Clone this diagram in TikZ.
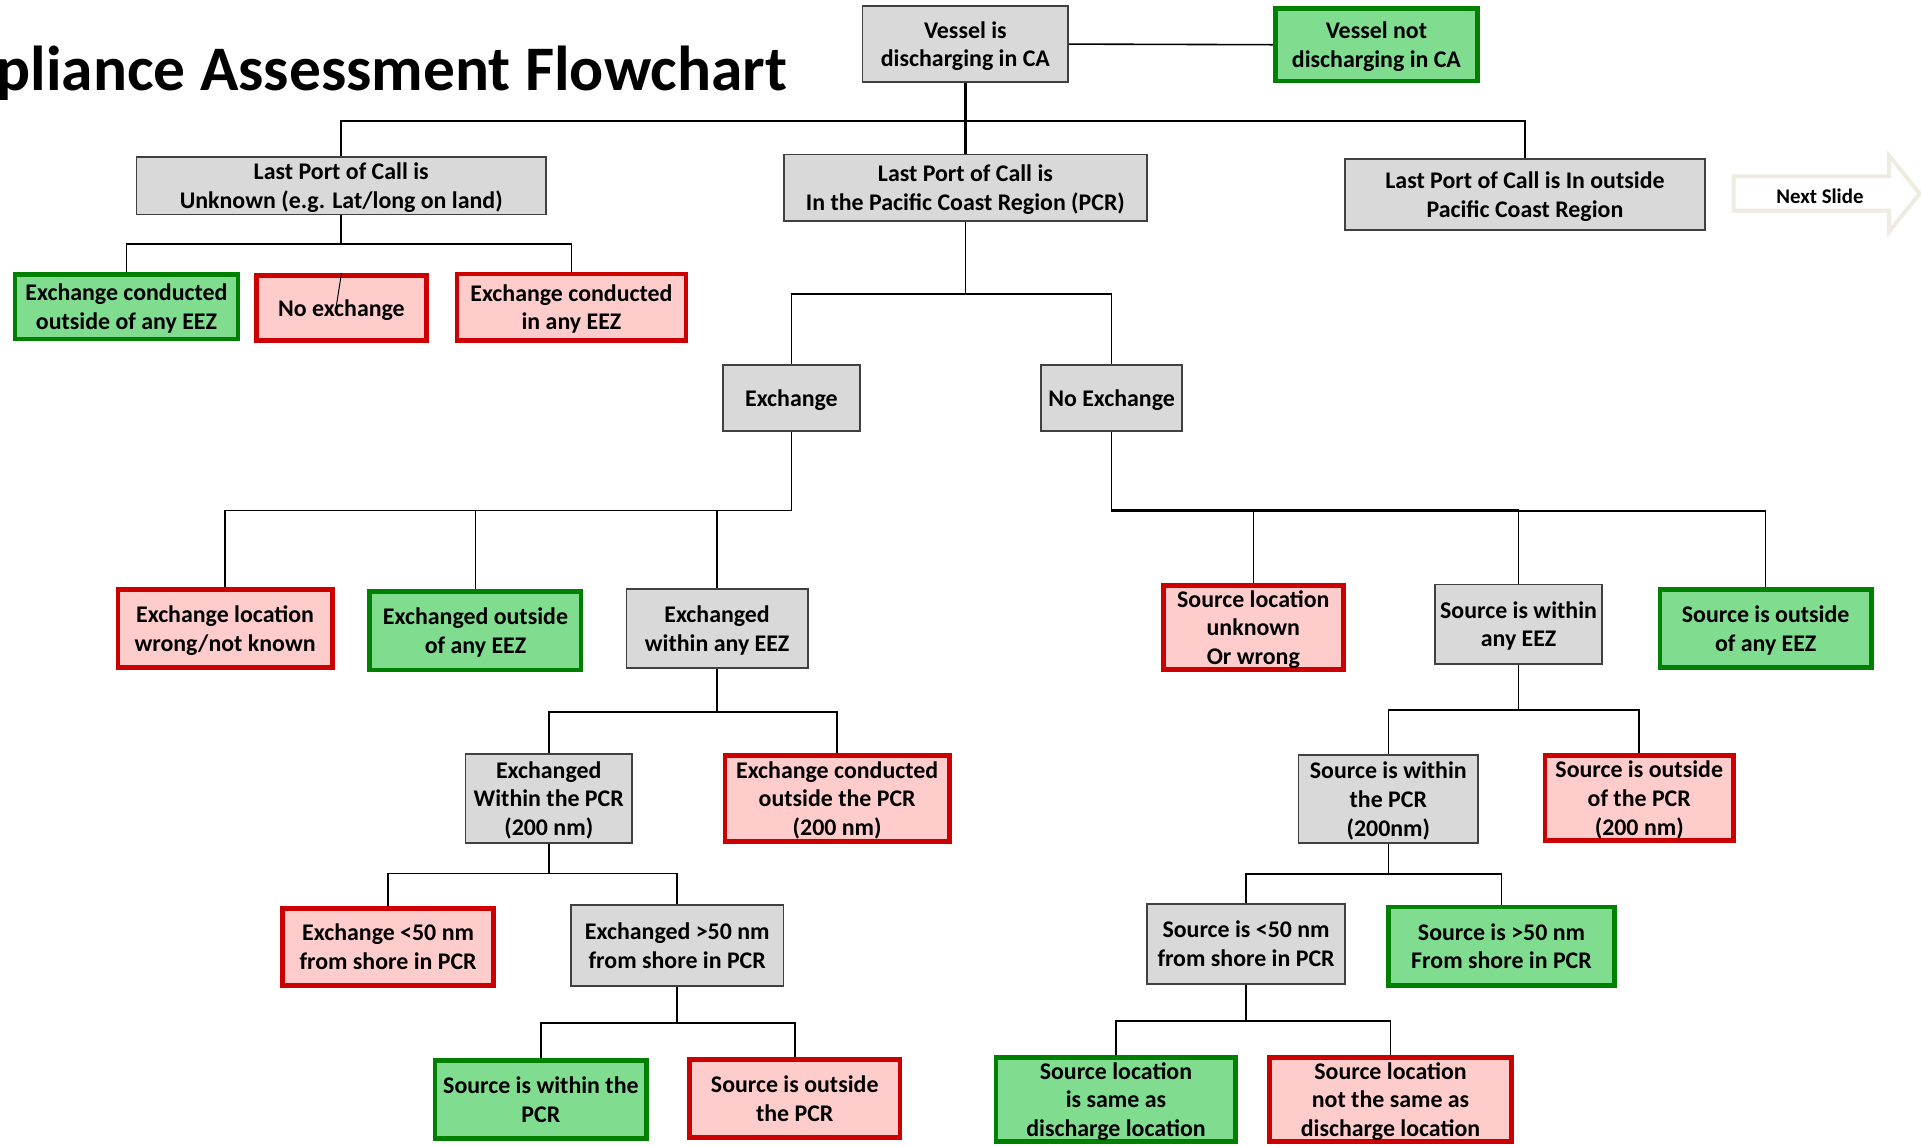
\documentclass[tikz,border=0pt]{standalone}
\usepackage{fontspec}
\setmainfont{Carlito}
\usepackage{xcolor}
\usetikzlibrary{positioning}
\definecolor{boxgray}{HTML}{D9D9D9}
\definecolor{grayedge}{HTML}{404040}
\definecolor{okfill}{HTML}{80DC8F}
\definecolor{okedge}{HTML}{008000}
\definecolor{badfill}{HTML}{FFCCCC}
\definecolor{badedge}{HTML}{CC0000}
\definecolor{slideedge}{HTML}{EEECE1}
\tikzset{
  chartbox/.style={
    rectangle, inner sep=0pt, align=center, text depth=0pt,
    font=\fontsize{19.5}{23.5}\selectfont\bfseries
  },
  graybox/.style={chartbox, draw=grayedge, line width=1.4pt, fill=boxgray},
  okbox/.style={chartbox, draw=okedge, line width=3.8pt, fill=okfill},
  badbox/.style={chartbox, draw=badedge, line width=3.8pt, fill=badfill},
  boxsize/.style 2 args={minimum width=#1pt, minimum height=#2pt},
  link/.style={line width=1.3pt, draw=black},
  mainlink/.style={line width=2pt, draw=black}
}

\begin{document}
\begin{tikzpicture}[x=1pt, y=-1pt]
  \useasboundingbox (0,0) rectangle (1568,936);
  \clip (0,0) rectangle (1568,936);

  % Title
  \node[anchor=base east, font=\fontsize{51.8}{60}\selectfont\bfseries] (title) at (646, 74) {pliance Assessment Flowchart};

  % Top level
  \node[graybox, boxsize={168}{62}] (vessel) at (788, 36) {Vessel is\\discharging in CA};
  \node[okbox, boxsize={165}{59}] (novessel) at (1123.5, 36.5) {Vessel not\\discharging in CA};
  \draw[link] (vessel.east) -- (novessel.west);

  % Last port of call
  \node[graybox, boxsize={334}{47}] (unknown) at (278.5, 151.7) {Last Port of Call is\\Unknown (e.g. Lat/long on land)};
  \node[graybox, boxsize={296}{54}] (pcr) at (788, 153.2) {Last Port of Call is\\In the Pacific Coast Region (PCR)};
  \node[graybox, boxsize={294}{58}] (outside) at (1244.7, 159) {Last Port of Call is In outside\\Pacific Coast Region};
  \draw[mainlink] (vessel.south) -- ++(0,31) -| (unknown.north);
  \draw[mainlink] (vessel.south) -- (pcr.north);
  \draw[link] (vessel.south) -- ++(0,31) -| (outside.north);

  % Next slide arrow
  \draw[line width=3.3pt, slideedge, fill=white, line join=miter]
    (1415,144) -- (1542,144) -- (1542,127) -- (1567,158) -- (1542,189) -- (1542,172) -- (1415,172) -- cycle;
  \node[font=\fontsize{17}{20}\selectfont\bfseries] (nextslide) at (1485.5, 160.5) {Next Slide};

  % Unknown port branch
  \node[okbox, boxsize={182}{53}] (uxout) at (103.2, 250.3) {Exchange conducted\\outside of any EEZ};
  \node[badbox, boxsize={138.5}{53}] (unoex) at (278.7, 251.5) {No exchange};
  \node[badbox, boxsize={187}{54}] (uxin) at (466.4, 250.7) {Exchange conducted\\in any EEZ};
  \draw[link] (unknown.south) -- ++(0,23.5) -| (uxout.north);
  \draw[link] (unknown.south) -- ++(0,23.5) -| (uxin.north);
  \draw[line width=0.8pt] (unoex.north) -- ++(-5,32);

  % PCR branch
  \node[graybox, boxsize={112}{54}] (exch) at (646, 325) {Exchange};
  \node[graybox, boxsize={115}{54}] (noexch) at (907.3, 325) {No Exchange};
  \draw[link] (pcr.south) -- ++(0,59) -| (exch.north);
  \draw[link] (pcr.south) -- ++(0,59) -| (noexch.north);

  % Exchange
  \node[badbox, boxsize={175}{63.5}] (exwrong) at (183.7, 513.1) {Exchange location\\wrong/not known};
  \node[okbox, boxsize={172.5}{64}] (exout) at (388.1, 514.9) {Exchanged outside\\of any EEZ};
  \node[graybox, boxsize={148}{64.8}] (exin) at (585.3, 512.9) {Exchanged\\within any EEZ};
  \draw[link] (exch.south) -- ++(0,64) -| (exwrong.north);
  \draw[link] (exch.south) -- ++(0,64) -| (exout.north);
  \draw[link] (exch.south) -- ++(0,64) -| (exin.north);

  \node[graybox, boxsize={136}{72.2}] (exinpcr) at (447.9, 651.8) {Exchanged\\Within the PCR\\(200 nm)};
  \node[badbox, boxsize={183}{70}] (exoutpcr) at (683.3, 651.8) {Exchange conducted\\outside the PCR\\(200 nm)};
  \draw[link] (exin.south) -- ++(0,35) -| (exinpcr.north);
  \draw[link] (exin.south) -- ++(0,35) -| (exoutpcr.north);

  \node[badbox, boxsize={172}{63}] (exnear) at (316.8, 772.8) {Exchange <50 nm\\from shore in PCR};
  \node[graybox, boxsize={173.5}{66.4}] (exfar) at (552.8, 771.6) {Exchanged >50 nm\\from shore in PCR};
  \draw[link] (exinpcr.south) -- ++(0,24.3) -| (exnear.north);
  \draw[link] (exinpcr.south) -- ++(0,24.3) -| (exfar.north);

  \node[okbox, boxsize={172.6}{64}] (exsrcin) at (441.5, 897.5) {Source is within the\\PCR};
  \node[badbox, boxsize={172}{63.6}] (exsrcout) at (648.7, 896.8) {Source is outside\\the PCR};
  \draw[link] (exfar.south) -- ++(0,29.7) -| (exsrcin.north);
  \draw[link] (exfar.south) -- ++(0,29.7) -| (exsrcout.north);

  % No exchange
  \node[badbox, boxsize={147}{68.6}] (srcunk) at (1023, 512.2) {Source location\\unknown\\Or wrong};
  \node[graybox, boxsize={136}{64.8}] (srcineez) at (1239.5, 509.4) {Source is within\\any EEZ};
  \node[okbox, boxsize={172.4}{63.7}] (srcouteez) at (1441.2, 513) {Source is outside\\of any EEZ};
  \draw[link] (noexch.south) -- ++(0,63.5) -| (srcunk.north);
  \draw[link] (noexch.south) -- ++(0,63.5) -| (srcineez.north);
  \draw[link] (noexch.south) -- ++(0,64.5) -| (srcouteez.north);

  \node[graybox, boxsize={146.5}{71.6}] (srcinpcr) at (1133.2, 652.1) {Source is within\\the PCR\\(200nm)};
  \node[badbox, boxsize={154}{69.4}] (srcoutpcr) at (1338, 651.6) {Source is outside\\of the PCR\\(200 nm)};
  \draw[link] (srcineez.south) -- ++(0,36.9) -| (srcinpcr.north);
  \draw[link] (srcineez.south) -- ++(0,36.9) -| (srcoutpcr.north);

  \node[graybox, boxsize={161.6}{65}] (srcnear) at (1017.1, 770.4) {Source is <50 nm\\from shore in PCR};
  \node[okbox, boxsize={184.6}{63.8}] (srcfar) at (1225.6, 772.3) {Source is >50 nm\\From shore in PCR};
  \draw[link] (srcinpcr.south) -- ++(0,25) -| (srcnear.north);
  \draw[link] (srcinpcr.south) -- ++(0,25) -| (srcfar.north);

  \node[okbox, boxsize={195.6}{68.6}] (same) at (910.9, 897.5) {Source location\\is same as\\discharge location};
  \node[badbox, boxsize={197.5}{68.6}] (notsame) at (1135, 897.5) {Source location\\not the same as\\discharge location};
  \draw[link] (srcnear.south) -- ++(0,29.6) -| (same.north);
  \draw[link] (srcnear.south) -- ++(0,29.6) -| (notsame.north);
\end{tikzpicture}
\end{document}
